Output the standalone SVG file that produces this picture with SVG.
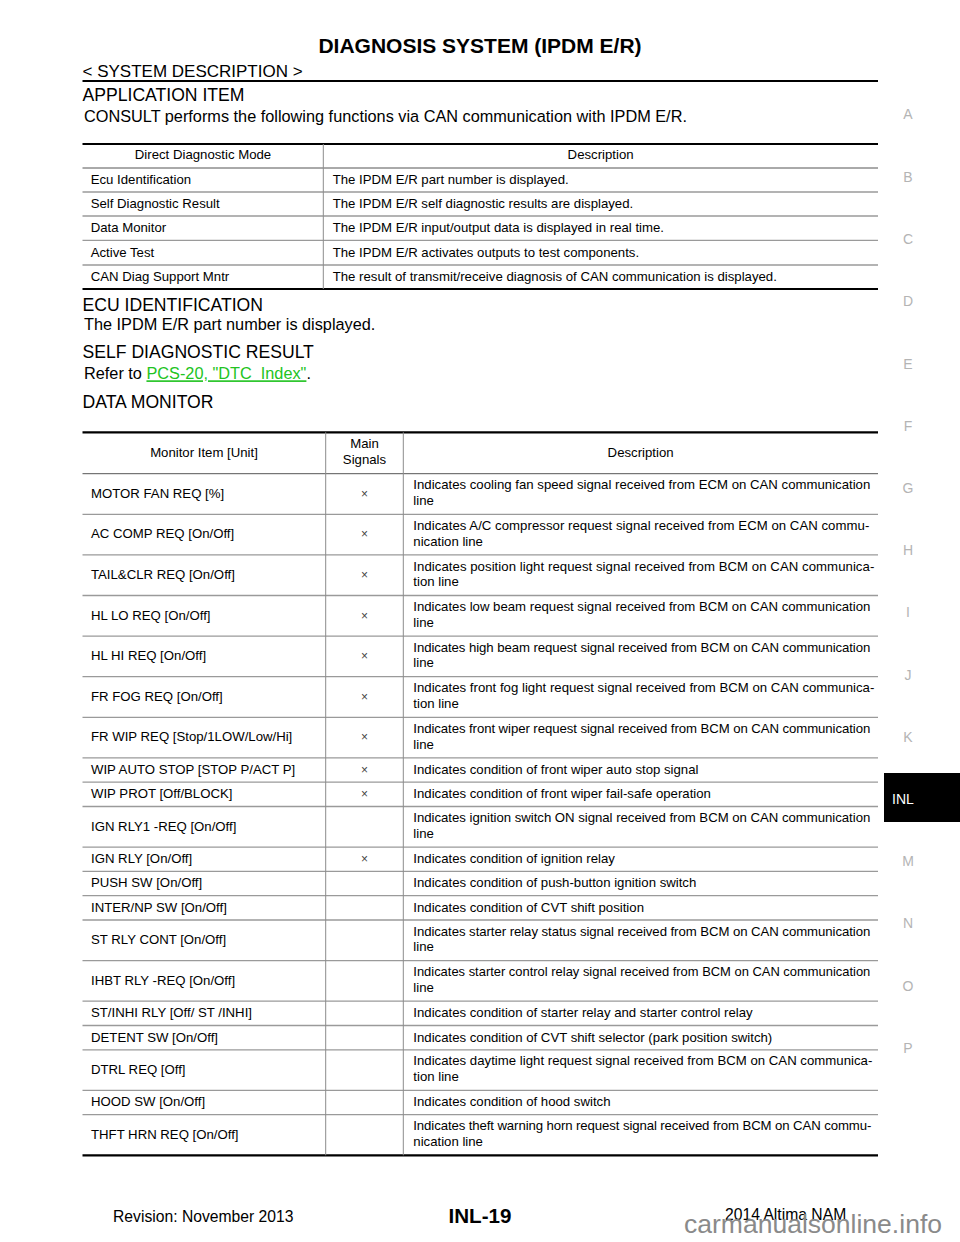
<svg xmlns="http://www.w3.org/2000/svg" width="960" height="1242" viewBox="0 0 960 1242">
<style>
text{font-family:"Liberation Sans",Arial,Helvetica,sans-serif;fill:#000}
.title{font-size:21px;font-weight:bold}
.sec{font-size:17px}
.h{font-size:17.6px}
.p{font-size:16.3px}
.t{font-size:13.2px}
.c{text-anchor:middle}
.x{font-size:12px;fill:#444;text-anchor:middle}
.side{font-size:14px;fill:#b4b4b4;text-anchor:middle}
.foot{font-size:15.7px}
.thick{stroke:#000;stroke-width:2.2;fill:none}
.hl{stroke:#555;stroke-width:1;fill:none}
.rl{stroke:#9a9a9a;stroke-width:1.3;fill:none}
.vl{stroke:#8c8c8c;stroke-width:1;fill:none}
.link{fill:#22c322}
</style>
<rect x="0" y="0" width="960" height="1242" fill="#fff"/>

<g id="header">
<text class="title c" x="480" y="52.7">DIAGNOSIS SYSTEM (IPDM E/R)</text>
<text class="sec" x="82.5" y="76.5">&lt; SYSTEM DESCRIPTION &gt;</text>
<line class="thick" x1="82.5" y1="81" x2="878" y2="81"/>
</g>

<g id="application-item">
<text class="h" x="82.5" y="101">APPLICATION ITEM</text>
<text class="p" x="84" y="121.7">CONSULT performs the following functions via CAN communication with IPDM E/R.</text>
</g>

<g id="table-application">
<line class="thick" x1="82.5" y1="144" x2="878" y2="144"/>
<line class="hl" x1="82.5" y1="168" x2="878" y2="168"/>
<line class="rl" x1="82.5" y1="192" x2="878" y2="192"/>
<line class="rl" x1="82.5" y1="216" x2="878" y2="216"/>
<line class="rl" x1="82.5" y1="240.3" x2="878" y2="240.3"/>
<line class="rl" x1="82.5" y1="265" x2="878" y2="265"/>
<line class="thick" x1="82.5" y1="289" x2="878" y2="289"/>
<line class="vl" x1="323.3" y1="144" x2="323.3" y2="289"/>
<text class="t c" x="203" y="159">Direct Diagnostic Mode</text>
<text class="t c" x="600.6" y="159">Description</text>
<text class="t" x="90.7" y="184">Ecu Identification</text>
<text class="t" x="332.7" y="184">The IPDM E/R part number is displayed.</text>
<text class="t" x="90.7" y="208">Self Diagnostic Result</text>
<text class="t" x="332.7" y="208">The IPDM E/R self diagnostic results are displayed.</text>
<text class="t" x="90.7" y="232.3">Data Monitor</text>
<text class="t" x="332.7" y="232.3">The IPDM E/R input/output data is displayed in real time.</text>
<text class="t" x="90.7" y="256.5">Active Test</text>
<text class="t" x="332.7" y="256.5">The IPDM E/R activates outputs to test components.</text>
<text class="t" x="90.7" y="281">CAN Diag Support Mntr</text>
<text class="t" x="332.7" y="281">The result of transmit/receive diagnosis of CAN communication is displayed.</text>
</g>

<g id="ecu-identification">
<text class="h" x="82.5" y="310.7">ECU IDENTIFICATION</text>
<text class="p" x="84" y="330">The IPDM E/R part number is displayed.</text>
</g>

<g id="self-diagnostic-result">
<text class="h" x="82.5" y="358.3">SELF DIAGNOSTIC RESULT</text>
<text class="p" x="84" y="379.3" xml:space="preserve">Refer to <tspan class="link" text-decoration="underline">PCS-20, "DTC  Index"</tspan>.</text>
</g>

<g id="data-monitor">
<text class="h" x="82.5" y="408.3">DATA MONITOR</text>
</g>

<g id="table-data-monitor">
<line class="thick" x1="82.5" y1="432.3" x2="878" y2="432.3"/>
<line class="hl" x1="82.5" y1="473.7" x2="878" y2="473.7"/>
<g class="rows">
<line class="rl" x1="82.5" y1="514.3" x2="878" y2="514.3"/>
<line class="rl" x1="82.5" y1="554.9" x2="878" y2="554.9"/>
<line class="rl" x1="82.5" y1="595.5" x2="878" y2="595.5"/>
<line class="rl" x1="82.5" y1="636.1" x2="878" y2="636.1"/>
<line class="rl" x1="82.5" y1="676.7" x2="878" y2="676.7"/>
<line class="rl" x1="82.5" y1="717.3" x2="878" y2="717.3"/>
<line class="rl" x1="82.5" y1="757.9" x2="878" y2="757.9"/>
<line class="rl" x1="82.5" y1="782.2" x2="878" y2="782.2"/>
<line class="rl" x1="82.5" y1="806.5" x2="878" y2="806.5"/>
<line class="rl" x1="82.5" y1="847.1" x2="878" y2="847.1"/>
<line class="rl" x1="82.5" y1="871.4" x2="878" y2="871.4"/>
<line class="rl" x1="82.5" y1="895.7" x2="878" y2="895.7"/>
<line class="rl" x1="82.5" y1="920" x2="878" y2="920"/>
<line class="rl" x1="82.5" y1="960.6" x2="878" y2="960.6"/>
<line class="rl" x1="82.5" y1="1001.2" x2="878" y2="1001.2"/>
<line class="rl" x1="82.5" y1="1025.5" x2="878" y2="1025.5"/>
<line class="rl" x1="82.5" y1="1049.8" x2="878" y2="1049.8"/>
<line class="rl" x1="82.5" y1="1090.4" x2="878" y2="1090.4"/>
<line class="rl" x1="82.5" y1="1114.7" x2="878" y2="1114.7"/>
</g>
<line class="thick" x1="82.5" y1="1155.3" x2="878" y2="1155.3"/>
<line class="vl" x1="325.7" y1="432.3" x2="325.7" y2="1155.3"/>
<line class="vl" x1="403.3" y1="432.3" x2="403.3" y2="1155.3"/>

<text class="t c" x="204" y="456.7">Monitor Item [Unit]</text>
<text class="t c" x="364.5" y="448.3">Main</text>
<text class="t c" x="364.5" y="464">Signals</text>
<text class="t c" x="640.6" y="456.7">Description</text>

<text class="t" x="91" y="497.7">MOTOR FAN REQ [%]</text>
<text class="x" x="364.5" y="497.7">×</text>
<text class="t" x="413.3" y="489.3" textLength="457" lengthAdjust="spacing">Indicates cooling fan speed signal received from ECM on CAN communication</text>
<text class="t" x="413.3" y="505">line</text>

<text class="t" x="91" y="538.3">AC COMP REQ [On/Off]</text>
<text class="x" x="364.5" y="538.3">×</text>
<text class="t" x="413.3" y="529.9" textLength="456" lengthAdjust="spacing">Indicates A/C compressor request signal received from ECM on CAN commu-</text>
<text class="t" x="413.3" y="545.6">nication line</text>

<text class="t" x="91" y="578.9">TAIL&amp;CLR REQ [On/Off]</text>
<text class="x" x="364.5" y="578.9">×</text>
<text class="t" x="413.3" y="570.5" textLength="461" lengthAdjust="spacing">Indicates position light request signal received from BCM on CAN communica-</text>
<text class="t" x="413.3" y="586.2">tion line</text>

<text class="t" x="91" y="619.5">HL LO REQ [On/Off]</text>
<text class="x" x="364.5" y="619.5">×</text>
<text class="t" x="413.3" y="611.1" textLength="457" lengthAdjust="spacing">Indicates low beam request signal received from BCM on CAN communication</text>
<text class="t" x="413.3" y="626.8">line</text>

<text class="t" x="91" y="660.1">HL HI REQ [On/Off]</text>
<text class="x" x="364.5" y="660.1">×</text>
<text class="t" x="413.3" y="651.7" textLength="457" lengthAdjust="spacing">Indicates high beam request signal received from BCM on CAN communication</text>
<text class="t" x="413.3" y="667.4">line</text>

<text class="t" x="91" y="700.7">FR FOG REQ [On/Off]</text>
<text class="x" x="364.5" y="700.7">×</text>
<text class="t" x="413.3" y="692.3" textLength="461" lengthAdjust="spacing">Indicates front fog light request signal received from BCM on CAN communica-</text>
<text class="t" x="413.3" y="708">tion line</text>

<text class="t" x="91" y="741.3">FR WIP REQ [Stop/1LOW/Low/Hi]</text>
<text class="x" x="364.5" y="741.3">×</text>
<text class="t" x="413.3" y="732.9" textLength="457" lengthAdjust="spacing">Indicates front wiper request signal received from BCM on CAN communication</text>
<text class="t" x="413.3" y="748.6">line</text>

<text class="t" x="91" y="773.9">WIP AUTO STOP [STOP P/ACT P]</text>
<text class="x" x="364.5" y="773.9">×</text>
<text class="t" x="413.3" y="773.9">Indicates condition of front wiper auto stop signal</text>

<text class="t" x="91" y="798.2">WIP PROT [Off/BLOCK]</text>
<text class="x" x="364.5" y="798.2">×</text>
<text class="t" x="413.3" y="798.2">Indicates condition of front wiper fail-safe operation</text>

<text class="t" x="91" y="830.5">IGN RLY1 -REQ [On/Off]</text>
<text class="t" x="413.3" y="822.1" textLength="457" lengthAdjust="spacing">Indicates ignition switch ON signal received from BCM on CAN communication</text>
<text class="t" x="413.3" y="837.8">line</text>

<text class="t" x="91" y="863.1">IGN RLY [On/Off]</text>
<text class="x" x="364.5" y="863.1">×</text>
<text class="t" x="413.3" y="863.1">Indicates condition of ignition relay</text>

<text class="t" x="91" y="887.4">PUSH SW [On/Off]</text>
<text class="t" x="413.3" y="887.4">Indicates condition of push-button ignition switch</text>

<text class="t" x="91" y="911.7">INTER/NP SW [On/Off]</text>
<text class="t" x="413.3" y="911.7">Indicates condition of CVT shift position</text>

<text class="t" x="91" y="944">ST RLY CONT [On/Off]</text>
<text class="t" x="413.3" y="935.6" textLength="457" lengthAdjust="spacing">Indicates starter relay status signal received from BCM on CAN communication</text>
<text class="t" x="413.3" y="951.3">line</text>

<text class="t" x="91" y="984.6">IHBT RLY -REQ [On/Off]</text>
<text class="t" x="413.3" y="976.2" textLength="457" lengthAdjust="spacingAndGlyphs">Indicates starter control relay signal received from BCM on CAN communication</text>
<text class="t" x="413.3" y="991.9">line</text>

<text class="t" x="91" y="1017.2">ST/INHI RLY [Off/ ST /INHI]</text>
<text class="t" x="413.3" y="1017.2">Indicates condition of starter relay and starter control relay</text>

<text class="t" x="91" y="1041.5">DETENT SW [On/Off]</text>
<text class="t" x="413.3" y="1041.5">Indicates condition of CVT shift selector (park position switch)</text>

<text class="t" x="91" y="1073.8">DTRL REQ [Off]</text>
<text class="t" x="413.3" y="1065.4" textLength="459" lengthAdjust="spacing">Indicates daytime light request signal received from BCM on CAN communica-</text>
<text class="t" x="413.3" y="1081.1">tion line</text>

<text class="t" x="91" y="1106.4">HOOD SW [On/Off]</text>
<text class="t" x="413.3" y="1106.4">Indicates condition of hood switch</text>

<text class="t" x="91" y="1138.7">THFT HRN REQ [On/Off]</text>
<text class="t" x="413.3" y="1130.3" textLength="458" lengthAdjust="spacing">Indicates theft warning horn request signal received from BCM on CAN commu-</text>
<text class="t" x="413.3" y="1146">nication line</text>
</g>

<g id="side-index">
<text class="side" x="908" y="119">A</text>
<text class="side" x="908" y="182">B</text>
<text class="side" x="908" y="244">C</text>
<text class="side" x="908" y="306">D</text>
<text class="side" x="908" y="369">E</text>
<text class="side" x="908" y="431">F</text>
<text class="side" x="908" y="493">G</text>
<text class="side" x="908" y="555">H</text>
<text class="side" x="908" y="617">I</text>
<text class="side" x="908" y="680">J</text>
<text class="side" x="908" y="742">K</text>
<rect x="884" y="773" width="76" height="49" fill="#000"/>
<text x="892" y="804" style="font-size:14px;fill:#fff">INL</text>
<text class="side" x="908" y="866">M</text>
<text class="side" x="908" y="928">N</text>
<text class="side" x="908" y="991">O</text>
<text class="side" x="908" y="1053">P</text>
</g>

<g id="footer">
<text class="foot" x="113" y="1222">Revision: November 2013</text>
<text class="c" x="480" y="1223" style="font-size:20.6px;font-weight:bold">INL-19</text>
<text class="foot" x="725" y="1220">2014 Altima NAM</text>
<text x="684" y="1233.3" style="font-size:26.5px;fill:#8a8a8a" textLength="258" lengthAdjust="spacingAndGlyphs">carmanualsonline.info</text>
</g>
</svg>
